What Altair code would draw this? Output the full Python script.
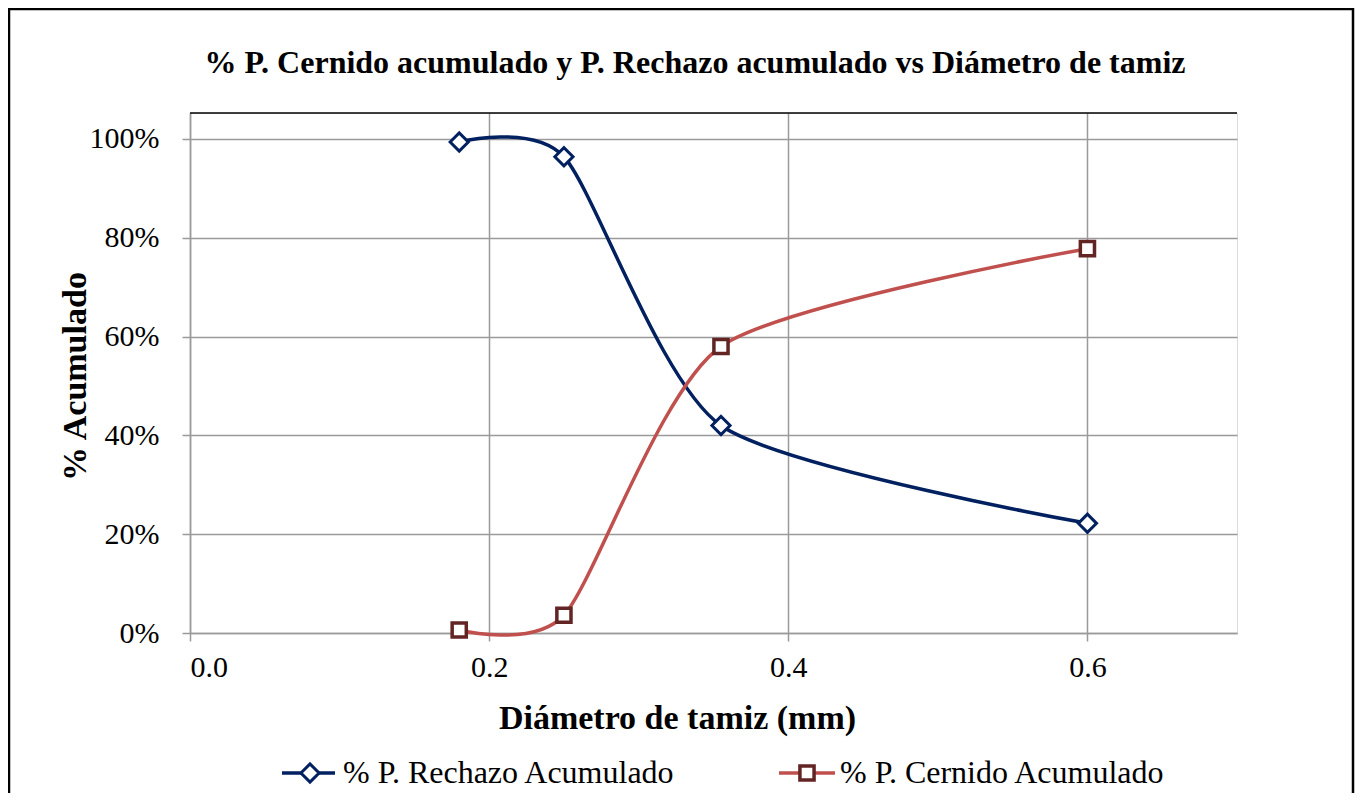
import altair as alt
import pandas as pd

diametro = [0.18, 0.25, 0.355, 0.6]
rechazo = [0.994, 0.964, 0.42, 0.222]
cernido = [0.006, 0.036, 0.58, 0.778]
x_ticks = [0.0, 0.2, 0.4, 0.6]
y_ticks = [0.0, 0.2, 0.4, 0.6, 0.8, 1.0]
titulo = "% P. Cernido acumulado y P. Rechazo acumulado vs Diámetro de tamiz"
serie_rechazo = "% P. Rechazo Acumulado"
serie_cernido = "% P. Cernido Acumulado"

NAVY = "#002060"
RED_LINE = "#C0504D"
RED_MARK = "#632523"
GRID = "#9a9a9a"
FONT = "Liberation Serif"

W, H = 1047, 520

df = pd.DataFrame({"d": diametro, "rechazo": rechazo, "cernido": cernido})
base = alt.Chart(df)

xs = alt.Scale(domain=[0, 0.7], nice=False, zero=False)
ys = alt.Scale(domain=[0, 1.0526], nice=False, zero=False)

x_axis = alt.Axis(values=x_ticks, format=".1f", title="Diámetro de tamiz (mm)",
                  grid=True, gridColor=GRID, gridWidth=1.5, domainColor=GRID, domainWidth=1.5,
                  tickColor=GRID, tickSize=8, tickWidth=1.5, labelFont=FONT, labelFontSize=30,
                  labelColor="black", labelPadding=11, titleFont=FONT, titleFontSize=34,
                  titleFontWeight="bold", titleColor="black", titleX=487, titleY=95,
                  titleAnchor="start", titleAlign="center", titleBaseline="alphabetic")
y_axis = alt.Axis(values=y_ticks, format=".0%", title="% Acumulado",
                  grid=True, gridColor=GRID, gridWidth=1.5, domainColor=GRID, domainWidth=1.5,
                  tickColor=GRID, tickSize=8, tickWidth=1.5, labelFont=FONT, labelFontSize=30,
                  labelColor="black", labelPadding=23, titleFont=FONT, titleFontSize=34,
                  titleFontWeight="bold", titleColor="black", titleX=-115, titleY=263,
                  titleAngle=270, titleAlign="center", titleBaseline="middle", titleAnchor="start")

X = alt.X("d:Q", scale=xs, axis=x_axis)
INTERP = dict(interpolate="cardinal", tension=0.3)

line_r = base.mark_line(color=NAVY, strokeWidth=3.5, **INTERP).encode(
    x=X, y=alt.Y("rechazo:Q", scale=ys, axis=y_axis))
line_c = base.mark_line(color=RED_LINE, strokeWidth=3.5, **INTERP).encode(
    x=X, y=alt.Y("cernido:Q", scale=ys, axis=y_axis))
pt_r = base.mark_point(shape="diamond", fill="white", fillOpacity=1, stroke=NAVY,
                       strokeWidth=3, size=330, opacity=1).encode(
    x=X, y=alt.Y("rechazo:Q", scale=ys, axis=y_axis))
pt_c = base.mark_point(shape="square", fill="white", fillOpacity=1, stroke=RED_MARK,
                       strokeWidth=3.5, size=200, opacity=1).encode(
    x=X, y=alt.Y("cernido:Q", scale=ys, axis=y_axis))

one = alt.Data(values=[{"k": 1}])

top_border = alt.Chart(one).mark_rule(color="black", strokeWidth=1.5).encode(
    x=alt.value(0), x2=alt.value(W), y=alt.value(0))

frame = alt.Chart(one).mark_rect(fill="transparent", stroke="black", strokeWidth=2.5).encode(
    x=alt.value(-181), x2=alt.value(W + 116), y=alt.value(-104), y2=alt.value(H + 300))

title = alt.Chart(alt.Data(values=[{"t": titulo}])).mark_text(
    font=FONT, fontSize=32, fontWeight="bold", color="black", align="center",
    baseline="alphabetic").encode(x=alt.value(505), y=alt.value(-40), text="t:N")

LY = 660
leg_line_r = alt.Chart(one).mark_rule(color=NAVY, strokeWidth=3.5).encode(
    x=alt.value(92), x2=alt.value(145), y=alt.value(LY))
leg_pt_r = alt.Chart(one).mark_point(shape="diamond", fill="white", fillOpacity=1, stroke=NAVY,
                                     strokeWidth=3, size=330, opacity=1).encode(
    x=alt.value(120), y=alt.value(LY))
leg_txt_r = alt.Chart(alt.Data(values=[{"t": serie_rechazo}])).mark_text(
    font=FONT, fontSize=32, color="black", align="left", baseline="middle").encode(
    x=alt.value(153), y=alt.value(LY), text="t:N")

leg_line_c = alt.Chart(one).mark_rule(color=RED_LINE, strokeWidth=3.5).encode(
    x=alt.value(589), x2=alt.value(645), y=alt.value(LY))
leg_pt_c = alt.Chart(one).mark_point(shape="square", fill="white", fillOpacity=1, stroke=RED_MARK,
                                     strokeWidth=3.5, size=200, opacity=1).encode(
    x=alt.value(617), y=alt.value(LY))
leg_txt_c = alt.Chart(alt.Data(values=[{"t": serie_cernido}])).mark_text(
    font=FONT, fontSize=32, color="black", align="left", baseline="middle").encode(
    x=alt.value(650), y=alt.value(LY), text="t:N")

chart = alt.layer(
    line_r, line_c, pt_r, pt_c, top_border, frame, title,
    leg_line_r, leg_pt_r, leg_txt_r, leg_line_c, leg_pt_c, leg_txt_c,
).properties(
    width=W, height=H,
    autosize=alt.AutoSizeParams(type="none"),
    padding={"left": 182, "top": 105, "right": 118, "bottom": 160},
).configure_view(
    stroke=GRID, strokeWidth=1.5
).configure(
    font=FONT, background="white"
)

chart.save("out.html", embed_options={"renderer": "svg", "actions": False})
